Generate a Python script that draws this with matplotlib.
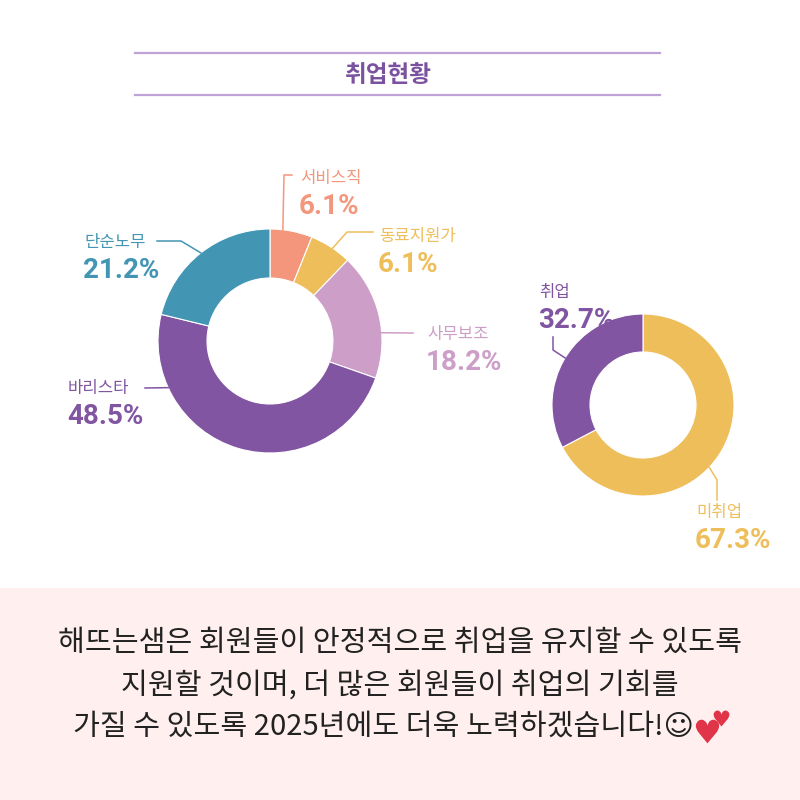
import matplotlib
matplotlib.use('Agg')
import matplotlib.pyplot as plt
import numpy as np
from matplotlib.patches import Rectangle

plt.rcParams['font.family'] = ['Noto Sans CJK KR', 'DejaVu Sans']

# data
job_labels = ['서비스직', '동료지원가', '사무보조', '바리스타', '단순노무']
job_values = [6.1, 6.1, 18.2, 48.5, 21.2]
job_colors = ['#F4967C', '#EEBE5B', '#CD9EC7', '#8155A2', '#4395B4']

emp_labels = ['미취업', '취업']
emp_values = [67.3, 32.7]
emp_colors = ['#EEBE5B', '#8155A2']

title = '취업현황'
message = ['해뜨는샘은 회원들이 안정적으로 취업을 유지할 수 있도록',
           '지원할 것이며, 더 많은 회원들이 취업의 기회를',
           '가질 수 있도록 2025년에도 더욱 노력하겠습니다!☺']

H = 800


def py(y):
    # pixel-from-top to data y
    return H - y


fig = plt.figure(figsize=(8, 8), dpi=100)
ax = fig.add_axes([0, 0, 1, 1])

# bottom pink band
ax.add_patch(Rectangle((0, 0), 800, py(588), color='#FFEFEE', zorder=0, lw=0))

# title with rules
ax.plot([135, 660], [py(53), py(53)], color='#BFA3D6', lw=1.6)
ax.plot([135, 660], [py(95), py(95)], color='#BFA3D6', lw=1.6)
ax.text(388, py(75), title, ha='center', va='center', fontsize=17,
        fontweight='bold', color='#7B52A0')

# donuts
c1, r1, w1 = (270, py(341)), 112, 49
c2, r2, w2 = (643, py(405)), 91, 38
ax.pie(job_values, colors=job_colors, startangle=90, counterclock=False,
       center=c1, radius=r1,
       wedgeprops=dict(width=w1, edgecolor='white', linewidth=0.8))
ax.pie(emp_values, colors=emp_colors, startangle=90, counterclock=False,
       center=c2, radius=r2,
       wedgeprops=dict(width=w2, edgecolor='white', linewidth=0.8))


def attach(values, i, frac, center, r):
    tot = sum(values)
    start = sum(values[:i])
    t = np.deg2rad(360 * (start + values[i] * frac) / tot)
    return center[0] + r * np.sin(t), center[1] + r * np.cos(t)


# label layout: (fraction in wedge, leader path px, name pos px)
job_layout = [
    (0.3, [(284, 175), (292, 175)], (300, 179)),
    (0.55, [(347, 232), (373, 232)], (379, 237)),
    (0.64, [(413, 333)], (427, 334)),
    (0.78, [(145, 388)], (68, 389)),
    (0.5, [(181, 241), (157, 241)], (84, 243)),
]
emp_layout = [
    (0.55, [(717, 480), (717, 500)], (696, 512)),
    (0.5, [(553, 350), (553, 337)], (539, 293)),
]

pct_font = ['Roboto', 'Noto Sans CJK KR']


def draw_labels(labels, values, colors, layout, center, r):
    for i, (frac, path, pos) in enumerate(layout):
        x0, y0 = attach(values, i, frac, center, r)
        xs = [x0] + [p[0] for p in path]
        ys = [y0] + [py(p[1]) for p in path]
        ax.plot(xs, ys, color=colors[i], lw=1.1)
        ax.text(pos[0], py(pos[1]), labels[i], ha='left', va='center',
                fontsize=12, color=colors[i])
        ax.text(pos[0] - 1, py(pos[1] + 28), f'{values[i]}%', ha='left',
                va='center', fontsize=20, fontweight='bold',
                color=colors[i], family=pct_font)


draw_labels(job_labels, job_values, job_colors, job_layout, c1, r1)
draw_labels(emp_labels, emp_values, emp_colors, emp_layout, c2, r2)

ax.set_xlim(0, 800)
ax.set_ylim(0, 800)
ax.set_aspect('equal')
ax.axis('off')

# message
line_y = [643, 686, 727]
last = None
for k, line in enumerate(message):
    last = ax.text(400 if k < 2 else 383, py(line_y[k]), line, ha='center',
                   va='center', fontsize=21, color='#222222',
                   family=['Noto Sans CJK KR', 'DejaVu Sans'])

# hearts right after the last line
fig.canvas.draw()
bb = last.get_window_extent(fig.canvas.get_renderer())
hx = ax.transData.inverted().transform((bb.x1, 0))[0]
ax.plot([hx + 14], [py(731)], marker='$♥$', markersize=17,
        color='#E03448', mew=0)
ax.plot([hx + 28], [py(718)], marker='$♥$', markersize=11.5,
        color='#E03448', mew=0)

fig.savefig('out.png', dpi=100, facecolor='white')
